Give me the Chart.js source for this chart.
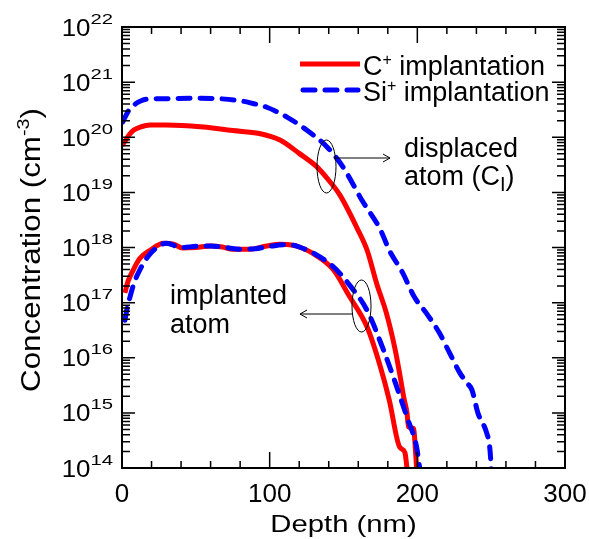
<!DOCTYPE html>
<html>
<head>
<meta charset="utf-8">
<script src="https://cdn.jsdelivr.net/npm/chart.js@4.4.1/dist/chart.umd.min.js"></script>
<style>
  html, body { margin: 0; padding: 0; background: #fff; }
  #wrap { position: relative; width: 589px; height: 539px; }
</style>
</head>
<body>
<div id="wrap"><canvas id="chart"></canvas></div>
<script>
// values: depth in nm, concentration in cm^-3
const siDisplacedDepth = [0.5, 2, 5, 9, 13, 17, 30, 50, 66, 80, 87, 98, 112, 125, 139, 150, 162.5, 175, 181, 190, 198, 206, 215, 222, 229, 233.6, 237, 241, 247, 249, 250, 250.3];
const siDisplacedConc = [1.9e20, 2.3e20, 3.2e20, 4.0e20, 4.6e20, 4.9e20, 5.0e20, 5.1e20, 5.0e20, 4.6e20, 4.2e20, 3.5e20, 2.3e20, 1.35e20, 6.6e19, 2.8e19, 7.2e18, 2.1e18, 8.9e17, 3.5e17, 1.26e17, 6.5e16, 2.8e16, 1.2e16, 5.2e15, 3.5e15, 2.6e15, 1.0e15, 4.3e14, 2.4e14, 1.0e14, 6.3e13];

const siImplantedDepth = [2, 3.5, 5.4, 8, 12, 18, 26, 30, 40, 50, 60, 70, 80, 90, 100, 110, 116, 121, 130, 143, 154, 166, 177, 186, 193, 199.5, 201.6, 203];
const siImplantedConc = [4.8e16, 7.9e16, 1.26e17, 2.2e17, 3.9e17, 7.1e17, 1.1e18, 1.2e18, 1.0e18, 1.05e18, 1.07e18, 1.0e18, 9.3e17, 9.5e17, 1.05e18, 1.12e18, 1.1e18, 1.0e18, 7.8e17, 4.5e17, 2.1e17, 7.2e16, 1.4e16, 3.0e15, 8.3e14, 2.4e14, 1.0e14, 6.3e13];

const cDisplacedDepth = [0, 2, 5, 8, 13, 19, 30, 53, 75, 93, 107, 120, 132, 140, 147.6, 159, 166, 172.5, 179, 185, 188, 191, 193, 194, 197.5, 198, 199.5, 200];
const cDisplacedConc = [7.1e19, 8.5e19, 1.12e20, 1.35e20, 1.55e20, 1.66e20, 1.66e20, 1.55e20, 1.32e20, 1.17e20, 8.9e19, 5.1e19, 2.9e19, 1.66e19, 8.9e18, 2.3e18, 8.9e17, 2.2e17, 6.5e16, 1.4e16, 5.2e15, 1.8e15, 1.0e15, 5.6e14, 5.2e14, 4.0e14, 1.0e14, 6.3e13];

const cImplantedDepth = [2, 4, 7.6, 12, 19, 28, 35, 41, 50, 60, 68, 75, 86, 97, 107, 116, 121, 129, 143, 154, 166, 175, 181, 188, 191.6, 193, 194];
const cImplantedConc = [1.5e17, 2.4e17, 3.9e17, 6.3e17, 8.9e17, 1.2e18, 1.15e18, 9.8e17, 1.0e18, 1.07e18, 1.02e18, 9.3e17, 9.3e17, 1.05e18, 1.15e18, 1.1e18, 1.0e18, 7.9e17, 4.0e17, 1.3e17, 3.6e16, 6.8e15, 1.7e15, 2.4e14, 1.9e14, 1.0e14, 6.3e13];

const xTickValues = [0, 100, 200, 300];
const yTickExponents = [14, 15, 16, 17, 18, 19, 20, 21, 22];
const legendLabels = ['C', 'Si'];

const RED = '#ff0000';
const BLUE = '#0000ff';
const FONT = '"Liberation Sans", Arial, sans-serif';

function toPoints(xs, ys) {
    return xs.map((x, i) => ({ x: x, y: ys[i] }));
}

// draws a list of text pieces (for super/subscripts)
function drawRich(ctx, parts, x, y, align) {
    let total = 0;
    parts.forEach(p => {
        ctx.font = p.size + 'px ' + FONT;
        p.w = ctx.measureText(p.t).width * (p.sx || 1);
        total += p.w;
    });
    let cx = x;
    if (align === 'center') cx = x - total / 2;
    if (align === 'right') cx = x - total;
    parts.forEach(p => {
        ctx.save();
        ctx.font = p.size + 'px ' + FONT;
        ctx.textBaseline = 'alphabetic';
        ctx.textAlign = 'left';
        ctx.translate(cx, y + (p.dy || 0));
        ctx.scale(p.sx || 1, 1);
        ctx.fillText(p.t, 0, 0);
        ctx.restore();
        cx += p.w;
    });
}

function arrowHead(ctx, x, y, dir) {
    ctx.beginPath();
    ctx.moveTo(x - dir * 7, y - 4);
    ctx.lineTo(x, y);
    ctx.lineTo(x - dir * 7, y + 4);
    ctx.stroke();
}

const decorPlugin = {
    id: 'decor',
    afterDraw(chart) {
        const ctx = chart.ctx;
        const xs = chart.scales.x;
        const ys = chart.scales.y;
        const a = chart.chartArea;
        ctx.save();
        ctx.fillStyle = '#000';
        ctx.strokeStyle = '#000';

        // frame
        ctx.lineWidth = 2;
        ctx.strokeRect(a.left, a.top, a.right - a.left, a.bottom - a.top);

        // x ticks, inward on bottom and top
        ctx.lineWidth = 1.5;
        for (let v = 0; v <= 300; v += 20) {
            const px = xs.getPixelForValue(v);
            const len = xTickValues.includes(v) ? 16 : 7;
            ctx.beginPath();
            ctx.moveTo(px, a.bottom); ctx.lineTo(px, a.bottom - len);
            ctx.moveTo(px, a.top); ctx.lineTo(px, a.top + len);
            ctx.stroke();
        }

        // y ticks, decades and 2..9 minors, inward on left and right
        yTickExponents.forEach((e, i) => {
            const py = ys.getPixelForValue(Math.pow(10, e));
            ctx.beginPath();
            ctx.moveTo(a.left, py); ctx.lineTo(a.left + 13, py);
            ctx.moveTo(a.right, py); ctx.lineTo(a.right - 13, py);
            ctx.stroke();
            if (i < yTickExponents.length - 1) {
                for (let m = 2; m <= 9; m++) {
                    const pm = ys.getPixelForValue(m * Math.pow(10, e));
                    ctx.beginPath();
                    ctx.moveTo(a.left, pm); ctx.lineTo(a.left + 8, pm);
                    ctx.moveTo(a.right, pm); ctx.lineTo(a.right - 8, pm);
                    ctx.stroke();
                }
            }
        });

        // x tick labels
        xTickValues.forEach(v => {
            drawRich(ctx, [{ t: String(v), size: 26 }], xs.getPixelForValue(v), a.bottom + 34, 'center');
        });

        // y tick labels 10^n
        yTickExponents.forEach(e => {
            const py = ys.getPixelForValue(Math.pow(10, e));
            drawRich(ctx, [
                { t: '10', size: 24, sx: 1.08 },
                { t: String(e), size: 15, sx: 1.35, dy: -12 }
            ], a.left - 9, py + 8.5, 'right');
        });

        // axis titles
        drawRich(ctx, [{ t: 'Depth (nm)', size: 24, sx: 1.22 }], (a.left + a.right) / 2, 532, 'center');
        ctx.save();
        ctx.translate(40, 250);
        ctx.rotate(-Math.PI / 2);
        drawRich(ctx, [
            { t: 'Concentration (cm', size: 27, sx: 1.16 },
            { t: '-3', size: 17, sx: 1.16, dy: -11 },
            { t: ')', size: 27, sx: 1.16 }
        ], 0, 0, 'center');
        ctx.restore();

        // legend
        ctx.lineCap = 'butt';
        ctx.lineWidth = 5;
        ctx.strokeStyle = RED;
        ctx.beginPath(); ctx.moveTo(300, 64); ctx.lineTo(360, 64); ctx.stroke();
        ctx.strokeStyle = BLUE;
        ctx.lineCap = 'round';
        ctx.setLineDash([12, 10]);
        ctx.beginPath(); ctx.moveTo(303, 90); ctx.lineTo(358, 90); ctx.stroke();
        ctx.setLineDash([]);
        ctx.lineCap = 'butt';
        legendLabels.forEach((lab, i) => {
            drawRich(ctx, [
                { t: lab, size: 27 },
                { t: '+', size: 16, dy: -10 },
                { t: ' implantation', size: 27 }
            ], 363, 75 + i * 26, 'left');
        });

        // annotations
        ctx.strokeStyle = '#000';
        ctx.lineWidth = 1;
        ctx.beginPath();
        ctx.ellipse(326.5, 166.5, 9.5, 26.5, 0, 0, Math.PI * 2);
        ctx.stroke();
        ctx.beginPath();
        ctx.moveTo(334, 158); ctx.lineTo(390, 158);
        ctx.stroke();
        arrowHead(ctx, 390, 158, 1);

        ctx.beginPath();
        ctx.ellipse(361.5, 306, 9.5, 26, 0, 0, Math.PI * 2);
        ctx.stroke();
        ctx.beginPath();
        ctx.moveTo(353, 314); ctx.lineTo(300, 314);
        ctx.stroke();
        arrowHead(ctx, 300, 314, -1);

        drawRich(ctx, [{ t: 'displaced', size: 27 }], 404, 157, 'left');
        drawRich(ctx, [
            { t: 'atom (C', size: 27 },
            { t: 'I', size: 20, dy: 6 },
            { t: ')', size: 27 }
        ], 404, 185, 'left');
        drawRich(ctx, [{ t: 'implanted', size: 27 }], 170, 304, 'left');
        drawRich(ctx, [{ t: 'atom', size: 27 }], 170, 333, 'left');

        ctx.restore();
    }
};

const dashed = {
    borderColor: BLUE,
    borderWidth: 5,
    borderDash: [12, 10],
    borderCapStyle: 'round',
    borderJoinStyle: 'round',
    pointRadius: 0,
    showLine: true,
    fill: false,
    cubicInterpolationMode: 'monotone'
};
const solid = {
    borderColor: RED,
    borderWidth: 5,
    borderCapStyle: 'butt',
    borderJoinStyle: 'round',
    pointRadius: 0,
    showLine: true,
    fill: false,
    cubicInterpolationMode: 'monotone'
};

new Chart(document.getElementById('chart'), {
    type: 'scatter',
    data: {
        datasets: [
            Object.assign({ label: 'Si+ displaced', data: toPoints(siDisplacedDepth, siDisplacedConc) }, dashed),
            Object.assign({ label: 'Si+ implanted', data: toPoints(siImplantedDepth, siImplantedConc) }, dashed),
            Object.assign({ label: 'C+ displaced', data: toPoints(cDisplacedDepth, cDisplacedConc) }, solid),
            Object.assign({ label: 'C+ implanted', data: toPoints(cImplantedDepth, cImplantedConc) }, solid)
        ]
    },
    options: {
        responsive: true,
        maintainAspectRatio: false,
        animation: false,
        layout: { padding: { left: 122, right: 24, top: 27, bottom: 71 } },
        plugins: {
            legend: { display: false },
            tooltip: { enabled: false }
        },
        scales: {
            x: { type: 'linear', display: false, min: 0, max: 300 },
            y: { type: 'logarithmic', display: false, min: 1e14, max: 1e22 }
        }
    },
    plugins: [decorPlugin]
});
</script>
</body>
</html>
